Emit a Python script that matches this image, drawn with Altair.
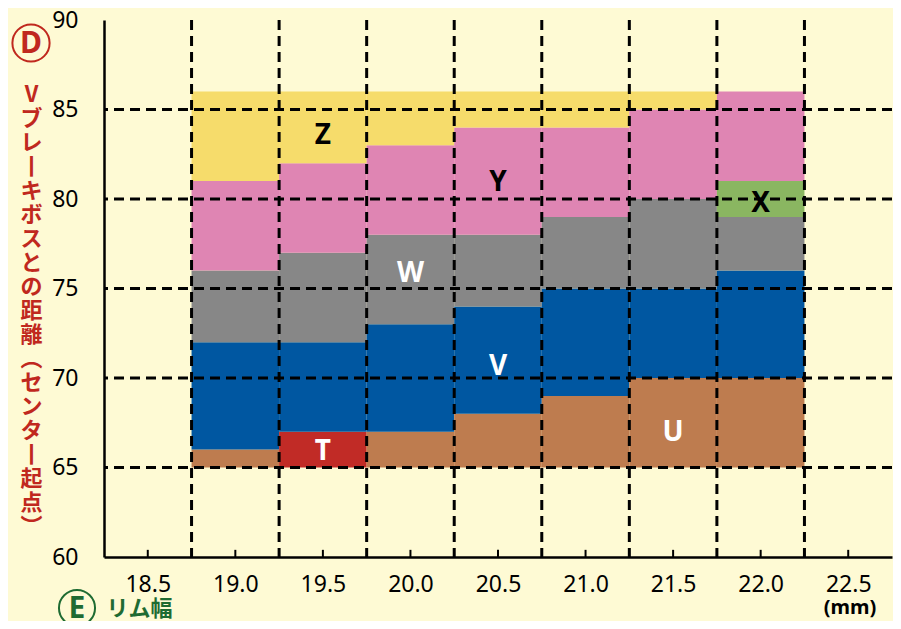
import altair as alt
import pandas as pd

# ---- data ----
x_centers = [19.0, 19.5, 20.0, 20.5, 21.0, 21.5, 22.0]
series_order = ["U", "T", "V", "W", "X", "Y", "Z"]
heights = {
    "U": [1, 0, 2, 3, 4, 5, 5],
    "T": [0, 2, 0, 0, 0, 0, 0],
    "V": [6, 5, 6, 6, 6, 5, 6],
    "W": [4, 5, 5, 4, 4, 5, 3],
    "X": [0, 0, 0, 0, 0, 0, 2],
    "Y": [5, 5, 5, 6, 5, 5, 5],
    "Z": [5, 4, 3, 2, 2, 1, 0],
}
base_value = 65
colors = ["#BE7C4F", "#C12B26", "#0057A1", "#878787", "#8AB661", "#DF85B3", "#F6DC6B"]

label_text = ["Z", "Y", "W", "V", "T", "U", "X"]
label_x = [19.5, 20.5, 20.0, 20.5, 19.5, 21.5, 22.0]
label_y = [83.5, 80.9, 75.8, 70.6, 65.85, 66.95, 79.7]
label_color = ["black", "black", "white", "white", "white", "white", "black"]

h_lines = [65, 70, 75, 80, 85]
v_lines = [18.75, 19.25, 19.75, 20.25, 20.75, 21.25, 21.75, 22.25]
x_ticks = [18.5, 19.0, 19.5, 20.0, 20.5, 21.0, 21.5, 22.0, 22.5]
y_ticks = [60, 65, 70, 75, 80, 85, 90]

y_title = ["V", "ブ", "レ", "丨", "キ", "ボ", "ス", "と", "の", "距", "離",
           "︵", "セ", "ン", "タ", "丨", "起", "点", "︶"]
x_title = "リム幅"

# ---- build tables ----
rows = []
for i, xc in enumerate(x_centers):
    cur = base_value
    for s in series_order:
        h = heights[s][i]
        if h > 0:
            rows.append({"x0": xc - 0.25, "x1": xc + 0.25, "y0": cur, "y1": cur + h, "s": s})
        cur += h
bars_df = pd.DataFrame(rows)
labels_df = pd.DataFrame({"t": label_text, "x": label_x, "y": label_y, "c": label_color})

W, H = 788, 537
xscale = alt.Scale(domain=[18.25, 22.75], nice=False, zero=False)
yscale = alt.Scale(domain=[60, 90], nice=False, zero=False)
tick_font = "Liberation Sans Narrow, Noto Sans"
cjk = "Noto Sans CJK JP"

bars = alt.Chart(bars_df).mark_rect().encode(
    x=alt.X("x0:Q", scale=xscale,
            axis=alt.Axis(values=x_ticks, format=".1f", ticks=False, grid=False,
                          domainColor="black", domainWidth=2.5, labelFont=tick_font,
                          labelFontSize=23, labelColor="black", labelPadding=16,
                          title=x_title, titleFont=cjk, titleFontSize=22,
                          titleFontWeight="bold", titleColor="#1E6B32",
                          titleAlign="left", titleAnchor="start", titleX=2, titleY=51,
                          titleBaseline="middle", labelFlush=False)),
    x2="x1:Q",
    y=alt.Y("y0:Q", scale=yscale,
            axis=alt.Axis(values=y_ticks, ticks=False, grid=False, domainColor="black",
                          domainWidth=2.5, labelFont=tick_font, labelFontSize=23,
                          labelColor="black", labelPadding=26,
                          title=y_title, titleAngle=0, titleFont=cjk, titleFontSize=22,
                          titleFontWeight="bold", titleColor="#C0281E",
                          titleAlign="center", titleBaseline="top",
                          titleX=-73, titleY=64, titleLineHeight=24, labelFlush=False)),
    y2="y1:Q",
    color=alt.Color("s:N", scale=alt.Scale(domain=series_order, range=colors), legend=None),
)

hrules = alt.Chart(pd.DataFrame({"v": h_lines})).mark_rule(
    strokeDash=[10, 6], strokeWidth=3, color="black").encode(y=alt.Y("v:Q", scale=yscale))
vrules = alt.Chart(pd.DataFrame({"v": v_lines})).mark_rule(
    strokeDash=[10, 6], strokeWidth=3, color="black").encode(x=alt.X("v:Q", scale=xscale))

tick_df = pd.DataFrame({"v": x_ticks, "a": [60] * len(x_ticks), "b": [60.4] * len(x_ticks)})
ticks = alt.Chart(tick_df).mark_rule(strokeWidth=2, color="black").encode(
    x=alt.X("v:Q", scale=xscale), y=alt.Y("a:Q", scale=yscale), y2="b:Q")

labels = alt.Chart(labels_df).mark_text(
    font="Noto Sans", fontSize=28, fontWeight="bold", baseline="middle", align="center"
).encode(
    x=alt.X("x:Q", scale=xscale), y=alt.Y("y:Q", scale=yscale),
    text="t:N", color=alt.Color("c:N", scale=None),
)

ann = pd.DataFrame({"k": [0]})
circ_d = alt.Chart(ann).mark_point(shape="circle", size=1385, filled=False,
                                   stroke="#C0281E", strokeWidth=2, opacity=1).encode(
    x=alt.value(-73), y=alt.value(23))
text_d = alt.Chart(ann).mark_text(text="D", font="Noto Sans", fontSize=30, fontWeight="bold",
                                  color="#C0281E", baseline="middle", align="center").encode(
    x=alt.value(-73), y=alt.value(24))
circ_e = alt.Chart(ann).mark_point(shape="circle", size=1300, filled=False,
                                   stroke="#1E6B32", strokeWidth=2, opacity=1).encode(
    x=alt.value(-27), y=alt.value(588))
text_e = alt.Chart(ann).mark_text(text="E", font="Noto Sans", fontSize=30, fontWeight="bold",
                                  color="#1E6B32", baseline="middle", align="center").encode(
    x=alt.value(-27), y=alt.value(589))
mm = alt.Chart(ann).mark_text(text="(mm)", font="Noto Sans", fontSize=20, fontWeight="bold",
                              color="black", baseline="middle", align="center").encode(
    x=alt.value(746), y=alt.value(588))

chart = alt.layer(bars, hrules, vrules, ticks, labels, circ_d, text_d, circ_e, text_e, mm).properties(
    width=W, height=H,
    autosize=alt.AutoSizeParams(type="none"),
    padding={"left": 96, "top": 12, "right": 1, "bottom": 64},
    background="#FEFAD4",
).configure_view(stroke=None)

chart.save("out.html", embed_options={"renderer": "svg", "actions": False})
